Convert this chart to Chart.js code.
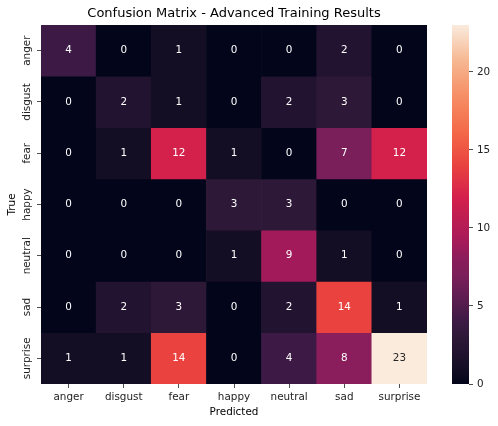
<!DOCTYPE html>
<html>
<head>
    <title>Confusion Matrix - Advanced Training Results</title>
    <style>
        body { margin: 0; background: #fff; }
        #wrap { position: relative; width: 498px; height: 426px; }
        #heat { position: absolute; left: 0; top: 0; }
        #cbar { position: absolute; left: 440px; top: 0; }
    </style>
    <script src="https://cdn.jsdelivr.net/npm/chart.js"></script>
</head>
<body>
<div id="wrap">
    <canvas id="cbar" width="58" height="426"></canvas>
    <canvas id="heat" width="468" height="426"></canvas>
</div>
<script>
// labels (rows = true, columns = predicted)
const classes = ['anger', 'disgust', 'fear', 'happy', 'neutral', 'sad', 'surprise'];
const rowAnger    = [4, 0, 1, 0, 0, 2, 0];
const rowDisgust  = [0, 2, 1, 0, 2, 3, 0];
const rowFear     = [0, 1, 12, 1, 0, 7, 12];
const rowHappy    = [0, 0, 0, 3, 3, 0, 0];
const rowNeutral  = [0, 0, 0, 1, 9, 1, 0];
const rowSad      = [0, 2, 3, 0, 2, 14, 1];
const rowSurprise = [1, 1, 14, 0, 4, 8, 23];
const colorbarTicks = [0, 5, 10, 15, 20];
const vmin = 0, vmax = 23;

const matrix = [rowAnger, rowDisgust, rowFear, rowHappy, rowNeutral, rowSad, rowSurprise];

// rough "rocket" colormap
const rocket = [
    [0.00, 3, 5, 26], [0.043, 20, 14, 36], [0.087, 34, 19, 48], [0.13, 46, 24, 56],
    [0.174, 61, 26, 69], [0.30, 122, 31, 90], [0.348, 138, 29, 91], [0.391, 163, 26, 90],
    [0.52, 212, 32, 76], [0.61, 233, 67, 63], [0.70, 243, 104, 72], [0.80, 246, 141, 100],
    [0.90, 246, 183, 145], [1.00, 250, 235, 221]
];
function cmap(t) {
    t = Math.max(0, Math.min(1, t));
    for (let i = 1; i < rocket.length; i++) {
        if (t <= rocket[i][0]) {
            const a = rocket[i - 1], b = rocket[i];
            const f = (t - a[0]) / (b[0] - a[0]);
            const c = [1, 2, 3].map(k => Math.round(a[k] + (b[k] - a[k]) * f));
            return `rgb(${c[0]},${c[1]},${c[2]})`;
        }
    }
    return 'rgb(250,235,221)';
}
function norm(v) { return (v - vmin) / (vmax - vmin); }

const font = "'DejaVu Sans', sans-serif";
const fs = 10.4;
Chart.defaults.font.family = font;
Chart.defaults.color = '#222';

const cellText = {
    id: 'cellText',
    afterDatasetsDraw(chart) {
        const {ctx, scales: {x, y}} = chart;
        ctx.save();
        ctx.font = fs + 'px ' + font;
        ctx.textAlign = 'center';
        ctx.textBaseline = 'middle';
        matrix.forEach((row, r) => row.forEach((v, c) => {
            ctx.fillStyle = norm(v) > 0.75 ? '#262626' : '#fff';
            ctx.fillText(String(v), x.getPixelForValue(c), y.getPixelForValue(r + 0.5));
        }));
        // rotated row labels
        ctx.fillStyle = '#222';
        classes.forEach((name, r) => {
            ctx.save();
            ctx.translate(27, y.getPixelForValue(r + 0.5));
            ctx.rotate(-Math.PI / 2);
            ctx.fillText(name, 0, 0);
            ctx.restore();
        });
        ctx.restore();
    }
};

new Chart(document.getElementById('heat'), {
    type: 'bar',
    data: {
        labels: classes,
        datasets: matrix.map((row, r) => ({
            label: classes[r],
            data: row.map(() => [r, r + 1]),
            backgroundColor: row.map(v => cmap(norm(v))),
            borderWidth: 0,
            grouped: false,
            barPercentage: 1,
            categoryPercentage: 1
        }))
    },
    options: {
        responsive: false,
        animation: false,
        devicePixelRatio: 1,
        layout: { padding: { left: 0, right: 41, top: 0, bottom: 0 } },
        plugins: {
            legend: { display: false },
            tooltip: { enabled: false },
            title: {
                display: true,
                fullSize: false,
                text: 'Confusion Matrix - Advanced Training Results',
                color: '#000',
                font: { size: 13, weight: 'normal' },
                padding: { top: 6, bottom: 3.4 }
            }
        },
        scales: {
            x: {
                border: { display: false },
                grid: { offset: false, drawOnChartArea: false, drawTicks: true, tickLength: 4, color: '#222', lineWidth: 0.8 },
                ticks: { font: { size: fs }, padding: 3, maxRotation: 0, minRotation: 0, autoSkip: false },
                title: { display: true, text: 'Predicted', color: '#000', font: { size: fs }, padding: { top: 0, bottom: 7 } },
                afterFit(s) { s.height = 42; }
            },
            y: {
                type: 'linear',
                min: 0,
                max: 7,
                reverse: true,
                border: { display: false },
                grid: { drawOnChartArea: false, drawTicks: true, tickLength: 4, color: '#222', lineWidth: 0.8 },
                ticks: { display: false },
                afterBuildTicks(s) { s.ticks = classes.map((_, i) => ({ value: i + 0.5 })); },
                title: { display: true, text: 'True', color: '#000', font: { size: fs }, padding: { top: 6, bottom: 0 } },
                afterFit(s) { s.width = 41; }
            }
        }
    },
    plugins: [cellText]
});

new Chart(document.getElementById('cbar'), {
    type: 'bar',
    data: {
        labels: [''],
        datasets: [{
            data: [[vmin, vmax]],
            backgroundColor(c) {
                const ca = c.chart.chartArea;
                if (!ca) return null;
                const g = c.chart.ctx.createLinearGradient(0, ca.bottom, 0, ca.top);
                rocket.forEach(s => g.addColorStop(s[0], `rgb(${s[1]},${s[2]},${s[3]})`));
                return g;
            },
            borderWidth: 0,
            barPercentage: 1,
            categoryPercentage: 1
        }]
    },
    options: {
        responsive: false,
        animation: false,
        devicePixelRatio: 1,
        layout: { padding: { left: 12, right: 0, top: 25, bottom: 42 } },
        plugins: { legend: { display: false }, tooltip: { enabled: false } },
        scales: {
            x: { display: false },
            y: {
                position: 'right',
                min: vmin,
                max: vmax,
                border: { display: false },
                grid: { drawOnChartArea: false, drawTicks: true, tickLength: 4, color: '#222', lineWidth: 0.8 },
                ticks: { font: { size: fs }, padding: 4 },
                afterBuildTicks(s) { s.ticks = colorbarTicks.map(v => ({ value: v })); },
                afterFit(s) { s.width = 29; }
            }
        }
    }
});
</script>
</body>
</html>
